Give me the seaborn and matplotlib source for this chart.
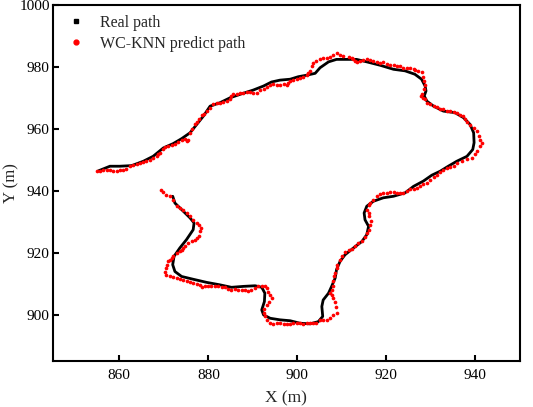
import matplotlib
matplotlib.use("Agg")
import matplotlib.pyplot as plt
import seaborn as sns
import pandas as pd
from matplotlib.lines import Line2D

# Real path (waypoints)
real_x = [855.3, 857.9, 860.1, 862.8, 865.4, 867.6, 869.9, 872.1, 874.0, 875.9,
          877.4, 878.9, 880.4, 882.6, 884.9, 887.1, 890.1, 892.4, 894.2, 896.1,
          898.4, 900.2, 902.1, 904.0, 905.1, 907.0, 908.8, 911.1, 913.3, 915.6,
          918.6, 921.6, 924.2, 926.4, 927.9, 928.7, 928.9, 928.5, 929.1, 930.6,
          932.8, 935.4, 937.3, 938.8, 939.6, 939.7, 939.4, 938.1, 935.8, 933.9,
          932.1, 930.2, 928.3, 926.1, 924.2, 921.6, 919.3, 917.1, 915.6, 915.0,
          915.2, 916.0, 915.6, 914.5, 912.6, 910.7, 909.6, 908.8, 908.5, 907.7,
          907.0, 905.8, 905.5, 905.7, 904.7, 902.8, 900.6, 898.4, 896.1, 893.9,
          892.4, 892.0, 892.6, 892.7, 892.0, 890.5, 887.9, 885.2, 882.6, 879.6,
          876.6, 874.0, 872.5, 872.0, 872.3, 873.6, 875.1, 876.6, 876.8, 875.9,
          874.0, 872.5, 872.0]
real_y = [946.4, 947.9, 947.9, 948.1, 949.5, 951.1, 953.8, 955.2, 956.8, 958.7,
          961.4, 964.1, 967.3, 968.4, 970.0, 971.1, 972.5, 973.8, 975.1, 975.7,
          976.0, 976.8, 977.3, 977.9, 979.7, 981.6, 982.4, 982.4, 982.4, 981.6,
          980.5, 979.2, 978.7, 977.6, 976.0, 973.8, 972.2, 970.6, 968.9, 967.3,
          965.7, 965.2, 963.6, 961.4, 958.7, 955.5, 953.3, 951.1, 949.5, 947.9,
          946.3, 945.0, 943.1, 941.4, 939.3, 938.2, 937.7, 936.6, 935.0, 932.8,
          930.6, 928.5, 925.8, 923.6, 921.5, 919.3, 917.2, 914.5, 911.8, 909.1,
          906.9, 904.7, 902.6, 899.4, 897.7, 897.0, 897.2, 898.0, 898.3, 898.8,
          899.9, 901.5, 904.2, 906.9, 908.8, 909.3, 909.1, 908.8, 909.6, 910.4,
          911.4, 912.3, 913.9, 916.1, 918.8, 921.5, 924.2, 927.4, 929.6, 931.2,
          933.9, 936.0, 938.2]

# WC-KNN predicted positions
pred_x = [854.9, 855.7, 856.4, 857.2, 857.9, 858.7, 859.4, 860.1, 860.9, 861.6,
          862.4, 863.1, 863.9, 864.6, 865.4, 866.1, 866.9, 867.6, 868.4, 868.8,
          869.1, 869.9, 870.3, 871.0, 871.8, 872.5, 873.3, 874.0, 874.8, 875.1,
          875.5, 875.9, 876.3, 877.0, 877.4, 877.8, 878.5, 879.0, 879.6, 880.4,
          881.1, 881.9, 882.6, 883.4, 884.1, 884.9, 885.2, 885.6, 886.4, 887.1,
          887.9, 888.6, 889.4, 890.1, 890.9, 891.6, 892.4, 893.1, 893.9, 894.6,
          895.4, 896.1, 896.9, 897.6, 898.0, 898.4, 899.1, 899.9, 900.6, 901.3,
          902.1, 902.5, 902.8, 903.2, 903.6, 904.3, 905.1, 905.8, 906.6, 907.3,
          908.1, 908.8, 909.6, 910.3, 911.5, 912.2, 912.6, 913.0, 913.5, 914.1,
          914.8, 915.6, 916.3, 917.1, 917.8, 918.6, 919.3, 920.1, 920.8, 921.6,
          922.3, 923.1, 923.8, 924.6, 925.3, 926.1, 926.4, 927.2, 927.9, 928.3,
          928.5, 928.7, 928.5, 927.9, 927.7, 928.3, 928.7, 929.2, 929.8, 930.6,
          931.3, 932.1, 932.8, 933.6, 934.3, 935.1, 935.8, 936.6, 937.3, 937.7,
          938.1, 938.8, 939.6, 940.3, 940.7, 941.0, 941.4, 941.0, 940.4, 939.9,
          939.2, 938.1, 936.9, 935.8, 935.2, 934.3, 933.6, 932.8, 932.1, 931.3,
          930.6, 929.8, 929.1, 928.3, 927.6, 926.8, 926.1, 925.3, 924.6, 923.8,
          923.1, 922.3, 921.6, 920.8, 920.1, 919.3, 918.6, 917.8, 917.1, 916.3,
          916.0, 915.6, 916.0, 916.2, 916.5, 916.3, 916.0, 915.6, 915.2, 914.5,
          913.7, 913.0, 912.2, 911.5, 910.7, 910.0, 909.6, 909.0, 908.8, 908.5,
          908.2, 908.1, 907.9, 907.7, 907.3, 907.7, 908.1, 908.5, 908.7, 908.8,
          908.1, 907.3, 906.6, 905.8, 905.1, 904.3, 903.6, 902.8, 902.1, 901.3,
          900.6, 899.9, 899.1, 898.4, 897.6, 896.9, 896.1, 895.4, 894.6, 893.9,
          893.1, 892.7, 892.4, 892.5, 893.1, 893.7, 894.2, 893.9, 893.5, 893.1,
          892.7, 892.0, 891.2, 890.5, 889.7, 889.0, 888.2, 887.5, 886.7, 886.0,
          885.2, 884.5, 883.7, 883.0, 882.2, 881.5, 880.7, 880.0, 879.3, 878.5,
          878.1, 877.4, 876.6, 875.9, 875.1, 874.4, 873.6, 872.9, 872.1, 871.4,
          870.6, 870.3, 870.6, 870.8, 871.0, 871.4, 871.8, 872.1, 872.9, 873.6,
          874.0, 874.4, 874.8, 875.5, 876.3, 877.0, 877.5, 878.0, 878.1, 878.3,
          878.0, 877.4, 876.6, 875.9, 875.1, 874.4, 873.6, 872.9, 872.1, 871.4,
          870.6, 869.9, 869.3]
pred_y = [946.2, 946.4, 946.6, 946.8, 946.6, 946.4, 946.4, 946.6, 946.6, 947.0,
          947.9, 948.2, 948.6, 949.0, 949.3, 949.6, 950.0, 950.5, 951.1, 951.7,
          952.2, 953.5, 954.1, 954.4, 954.6, 955.1, 955.7, 956.3, 956.8, 956.0,
          956.5, 958.7, 959.8, 961.4, 962.2, 963.0, 964.3, 964.8, 965.7, 966.8,
          967.9, 968.2, 968.4, 968.6, 968.9, 969.7, 970.6, 971.1, 971.1, 971.4,
          971.6, 971.9, 971.9, 971.4, 971.6, 972.5, 972.9, 973.5, 974.0, 974.3,
          974.0, 974.2, 974.3, 974.0, 974.9, 975.4, 975.7, 976.2, 976.4, 976.8,
          977.3, 977.9, 978.7, 980.3, 981.1, 981.8, 982.4, 982.7, 983.0, 983.3,
          983.7, 984.4, 983.9, 983.5, 983.3, 983.0, 982.4, 981.9, 981.6, 981.9,
          982.2, 982.4, 982.1, 981.8, 981.4, 981.1, 981.4, 981.0, 980.7, 980.5,
          980.3, 980.3, 979.7, 979.6, 979.7, 979.4, 979.0, 978.7, 978.3, 976.8,
          975.4, 974.0, 972.7, 971.1, 970.6, 970.0, 969.5, 968.4, 967.9, 967.3,
          967.1, 966.5, 966.3, 965.7, 965.7, 965.4, 965.2, 964.6, 964.1, 963.0,
          962.2, 961.1, 960.3, 959.2, 957.6, 956.5, 955.5, 954.4, 952.8, 951.7,
          950.6, 950.1, 949.5, 949.0, 948.1, 947.7, 947.4, 946.8, 946.0, 945.2,
          944.5, 943.6, 942.5, 942.0, 941.4, 940.9, 940.6, 940.4, 939.8, 939.3,
          939.3, 939.3, 939.5, 939.5, 939.3, 939.3, 939.0, 938.2, 937.1, 936.0,
          935.5, 933.9, 932.8, 931.7, 930.1, 929.0, 927.4, 926.3, 925.2, 923.6,
          923.1, 922.0, 921.1, 920.9, 920.1, 918.8, 917.5, 916.1, 915.0, 913.4,
          912.3, 910.7, 909.1, 908.0, 907.1, 906.4, 905.5, 904.2, 902.6, 900.4,
          899.9, 898.8, 898.3, 898.1, 898.1, 897.4, 897.2, 897.4, 897.2, 897.0,
          897.2, 897.4, 897.2, 897.0, 896.8, 896.8, 897.2, 897.2, 897.0, 897.4,
          898.3, 899.4, 900.6, 901.7, 903.1, 904.2, 905.3, 906.4, 907.4, 908.5,
          909.1, 909.1, 909.1, 908.5, 908.0, 907.7, 907.8, 908.0, 908.0, 908.2,
          908.0, 908.4, 908.8, 908.8, 909.1, 909.1, 909.3, 909.1, 909.3, 908.8,
          909.6, 909.9, 910.1, 910.4, 910.7, 911.2, 911.4, 911.8, 912.1, 912.5,
          912.8, 913.6, 915.0, 916.1, 917.2, 917.7, 918.2, 919.0, 919.9, 920.4,
          920.9, 921.5, 922.0, 923.1, 923.6, 924.2, 924.7, 925.5, 926.9, 927.9,
          929.0, 929.6, 930.6, 931.7, 932.8, 933.7, 934.4, 935.2, 937.1, 938.2,
          938.7, 939.5, 940.1]

x_ticks = [860, 880, 900, 920, 940]
y_ticks = [900, 920, 940, 960, 980, 1000]

real_df = pd.DataFrame({"x": real_x, "y": real_y})
pred_df = pd.DataFrame({"x": pred_x, "y": pred_y})

sns.set_theme(style="ticks")
plt.rcParams["font.family"] = ["Liberation Serif", "DejaVu Serif"]

fig = plt.figure(figsize=(5.33, 4.07), dpi=100)
ax = fig.add_axes([0.0985, 0.113, 0.877, 0.875])

sns.lineplot(data=real_df, x="x", y="y", sort=False, estimator=None,
             color="black", linewidth=2.0, ax=ax, zorder=2)
sns.scatterplot(data=pred_df, x="x", y="y", color="red", s=7,
                linewidth=0, ax=ax, zorder=3)

ax.set_xlim(845, 950)
ax.set_ylim(885, 1000)
ax.set_xticks(x_ticks)
ax.set_yticks(y_ticks)
ax.tick_params(direction="in", length=4, width=1.5, labelsize=11,
               colors="black", top=False, right=False)
ax.tick_params(axis="x", pad=6)
ax.tick_params(axis="y", pad=2)
for sp in ax.spines.values():
    sp.set_linewidth(1.5)
    sp.set_color("black")
    sp.set_visible(True)
ax.set_xlabel("X (m)", fontsize=12.5, labelpad=6)
ax.set_ylabel("Y (m)", fontsize=12)
ax.yaxis.set_label_coords(-0.071, 0.5)

handles = [
    Line2D([], [], marker="s", color="black", linestyle="none", markersize=3.5),
    Line2D([], [], marker="o", color="red", linestyle="none", markersize=3.5),
]
ax.legend(handles, ["Real path", "WC-KNN predict path"], loc="upper left",
          frameon=False, fontsize=11.5, handlelength=1.0, handletextpad=1.0,
          borderaxespad=0.0, labelspacing=0.3, bbox_to_anchor=(0.02, 0.99))

fig.savefig("out.png", dpi=100)
